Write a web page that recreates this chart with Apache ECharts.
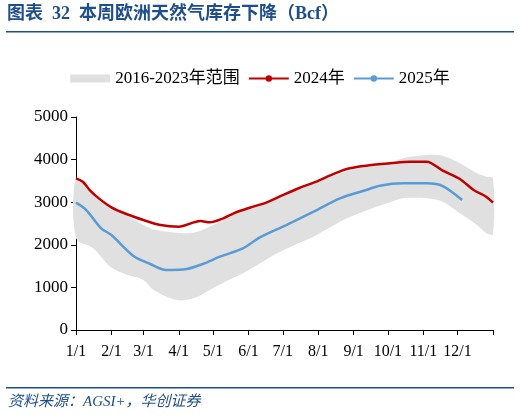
<!DOCTYPE html>
<html><head><meta charset="utf-8">
<script src="https://cdn.jsdelivr.net/npm/echarts@6/dist/echarts.min.js"></script>
<style>html,body{margin:0;padding:0;background:#fff}#c{width:520px;height:418px}</style>
</head><body><div id="c"></div>
<script>
const title = '图表  32  本周欧洲天然气库存下降（Bcf）';
const source = '资料来源：AGSI+，华创证券';
const monthDays = [0,31,59,90,120,151,181,212,243,273,304,334,365];
const monthLabels = ['1/1','2/1','3/1','4/1','5/1','6/1','7/1','8/1','9/1','10/1','11/1','12/1',''];

const bandDays  = [0,15,30,44,59,68,88,103,117,132,146,161,176,190,205,220,234,249,263,275,286,307,321,336,351,359,365];
const bandUpper = [3560,3246,2894,2699,2464,2360,2284,2284,2425,2621,2800,2960,3090,3250,3400,3560,3700,3800,3860,3900,4030,4107,4091,3912,3677,3600,3560];
const bandLower = [2152,1917,1486,1300,1174,939,704,744,939,1150,1331,1560,1800,1980,2152,2370,2582,2750,2894,3000,3091,3091,3011,2739,2464,2269,2250];

const days2024 = [0,6,12,20,31,44,59,74,90,103,109,117,129,138,152,167,181,196,211,222,237,254,275,292,307,321,336,348,359,365];
const vals2024 = [3560,3481,3286,3090,2879,2723,2582,2464,2425,2527,2558,2527,2621,2739,2871,2997,3168,3340,3489,3622,3779,3857,3912,3951,3951,3740,3544,3286,3129,2989];

const days2025 = [0,9,22,31,50,65,79,97,111,126,146,161,184,208,231,254,266,286,307,321,338];
const vals2025 = [2989,2816,2386,2230,1745,1549,1408,1432,1549,1721,1916,2175,2464,2777,3090,3286,3388,3442,3442,3380,3051];

const serif = '"Times New Roman","Liberation Serif","Noto Sans CJK SC",serif';
const pair = (d,v)=>d.map((x,i)=>[x,v[i]]);
const bandData = bandDays.map((d,i)=>[d,bandLower[i],bandUpper[i]]);

const chart = echarts.init(document.getElementById('c'));
chart.setOption({
  animation:false,
  graphic:[
    {type:'text',left:7,top:5,style:{text:title,font:'bold 18px "Liberation Serif","Noto Sans CJK SC",serif',fill:'#1f4e8c'}},
    {type:'rect',shape:{x:6,y:31,width:508,height:1.5},style:{fill:'#1f4e8c'}},
    {type:'rect',shape:{x:6,y:387,width:508,height:1.5},style:{fill:'#1f4e8c'}},
    {type:'text',left:8,top:395,style:{text:source,font:'italic 15px "Liberation Serif","Noto Sans CJK SC",serif',fill:'#1f4e8c'}}
  ],
  legend:{top:65,left:'center',itemGap:8,itemWidth:40,itemHeight:8,
    textStyle:{fontFamily:serif,fontSize:17,color:'#000'},
    data:[{name:'2016-2023年范围',icon:'rect',itemStyle:{color:'#e0e0e0'}},{name:'2024年'},{name:'2025年'}]},
  grid:{left:76,right:27,top:117,bottom:88},
  xAxis:{type:'value',min:0,max:365,
    axisLine:{show:true,lineStyle:{color:'#000'}},
    axisTick:{show:true,customValues:monthDays,length:5,inside:false,lineStyle:{color:'#000'}},
    axisLabel:{customValues:monthDays.slice(0,12),formatter:v=>monthLabels[monthDays.indexOf(v)],
      fontFamily:serif,fontSize:16,color:'#000',margin:14},
    splitLine:{show:false}},
  yAxis:{type:'value',min:0,max:5000,interval:1000,
    axisLine:{show:true,lineStyle:{color:'#000'}},
    axisTick:{show:true,inside:false,length:5,lineStyle:{color:'#000'}},
    axisLabel:{fontFamily:serif,fontSize:17,color:'#000',margin:8,formatter:v=>String(v)},
    splitLine:{show:false}},
  series:[
    {name:'2016-2023年范围',type:'custom',data:bandData,z:1,itemStyle:{color:'#e0e0e0'},
      renderItem:(params,api)=>{
        if(params.dataIndex!==0) return;
        const up=bandData.map(d=>api.coord([d[0],d[2]]));
        const lo=bandData.map(d=>api.coord([d[0],d[1]])).reverse();
        return {type:'polygon',shape:{points:up.concat(lo),smooth:0.3},style:{fill:'#e0e0e0'}};
      }},
    {name:'2024年',type:'line',data:pair(days2024,vals2024),symbol:'none',smooth:0.3,z:3,
      lineStyle:{color:'#c00000',width:2.5},itemStyle:{color:'#c00000'}},
    {name:'2025年',type:'line',data:pair(days2025,vals2025),symbol:'none',smooth:0.3,z:3,
      lineStyle:{color:'#5b9bd5',width:2.5},itemStyle:{color:'#5b9bd5'}}
  ]
});
</script></body></html>
